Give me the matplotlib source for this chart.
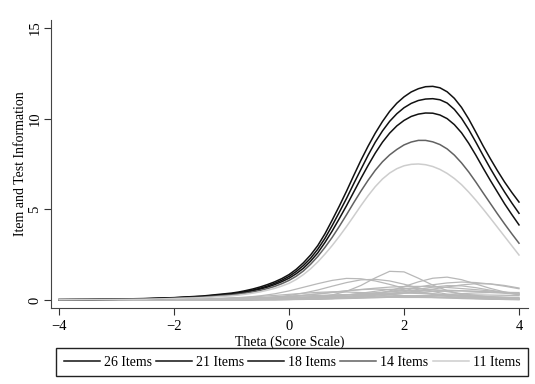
import matplotlib
matplotlib.use("Agg")
import matplotlib.pyplot as plt
import numpy as np

# theta grid for the test curves: coarse on the flat left tail, fine elsewhere
theta_test = np.concatenate([np.arange(-4, -1, 0.5), np.arange(-1, 4.001, 0.125)])
# theta grid for the item curves
theta_item = np.arange(-4, 4.001, 0.25)

test_labels = ["26 Items", "21 Items", "18 Items", "14 Items", "11 Items"]
test_colors = ["#111111", "#111111", "#111111", "#626262", "#cdcdcd"]

info_26 = [.02, .03, .05, .08, .13, .22,
           .38, .44, .52, .61, .72, .85, 1.00, 1.18, 1.40, 1.69, 2.05, 2.48, 3.00, 3.65, 4.40, 5.18,
           6.00, 6.86, 7.70, 8.48, 9.20, 9.84, 10.40, 10.85, 11.20, 11.47, 11.65, 11.76, 11.78, 11.70,
           11.48, 11.12, 10.62, 9.98, 9.25, 8.50, 7.80, 7.13, 6.50, 5.93, 5.40]
info_21 = [.02, .03, .04, .07, .12, .20,
           .34, .40, .47, .55, .65, .77, .92, 1.09, 1.30, 1.57, 1.90, 2.30, 2.80, 3.40, 4.10, 4.84,
           5.60, 6.41, 7.20, 7.98, 8.70, 9.32, 9.85, 10.27, 10.60, 10.84, 11.00, 11.08, 11.10, 11.04,
           10.86, 10.51, 10.02, 9.40, 8.70, 7.97, 7.26, 6.59, 5.95, 5.35, 4.78]
info_18 = [.02, .02, .04, .06, .11, .18,
           .31, .36, .43, .51, .60, .71, .85, 1.01, 1.20, 1.45, 1.75, 2.14, 2.60, 3.17, 3.80, 4.49,
           5.20, 5.95, 6.70, 7.42, 8.10, 8.70, 9.20, 9.60, 9.90, 10.12, 10.25, 10.31, 10.30, 10.20,
           10.00, 9.67, 9.22, 8.64, 7.98, 7.28, 6.60, 5.95, 5.30, 4.71, 4.14]
info_14 = [.01, .02, .03, .05, .09, .16,
           .28, .33, .38, .45, .53, .63, .75, .90, 1.08, 1.31, 1.60, 1.97, 2.40, 2.90, 3.45, 4.06,
           4.70, 5.36, 6.00, 6.60, 7.15, 7.62, 8.00, 8.30, 8.55, 8.71, 8.80, 8.80, 8.72, 8.57,
           8.33, 7.99, 7.56, 7.06, 6.50, 5.91, 5.33, 4.75, 4.19, 3.65, 3.13]
info_11 = [.01, .02, .03, .04, .08, .13,
           .23, .27, .32, .38, .45, .54, .64, .77, .92, 1.13, 1.40, 1.72, 2.10, 2.53, 3.00, 3.51,
           4.05, 4.62, 5.20, 5.75, 6.25, 6.67, 7.00, 7.24, 7.40, 7.48, 7.50, 7.46, 7.36, 7.20,
           6.98, 6.70, 6.36, 5.95, 5.50, 5.02, 4.52, 4.01, 3.50, 2.99, 2.48]
test_info = [info_26, info_21, info_18, info_14, info_11]

# item information curves (on theta_item)
item_info = [
    [0, 0, 0, 0, 0, 0, 0, 0, 0, 0, 0, 0, .01, .01, .02, .03, .05, .09, .16, .28, .48, .80, 1.22, 1.58, 1.55, 1.20, .82, .52, .30, .17, .10, .05, .03],
    [0, 0, 0, 0, 0, .01, .01, .01, .02, .03, .04, .06, .10, .15, .23, .34, .50, .70, .90, 1.08, 1.19, 1.17, 1.05, .86, .65, .46, .31, .20, .13, .08, .05, .03, .02],
    [0, 0, 0, 0, 0, 0, .01, .01, .01, .02, .02, .03, .04, .06, .10, .16, .25, .38, .55, .76, .96, 1.11, 1.14, 1.05, .87, .66, .47, .32, .21, .14, .09, .06, .04],
    [0, 0, 0, 0, 0, 0, 0, 0, 0, 0, 0, 0, 0, 0, .01, .01, .02, .03, .05, .08, .13, .21, .33, .50, .74, 1.00, 1.20, 1.26, 1.12, .88, .64, .44, .29],
    [0, 0, 0, 0, 0, 0, 0, 0, .01, .01, .01, .02, .02, .03, .04, .05, .06, .08, .11, .15, .20, .27, .36, .47, .59, .72, .84, .94, .99, .96, .88, .76, .62],
    [0, 0, 0, 0, 0, 0, 0, 0, 0, 0, 0, 0, .01, .01, .02, .02, .03, .04, .06, .08, .11, .15, .21, .28, .37, .48, .60, .72, .83, .90, .89, .80, .66],
    [0, 0, 0, .01, .01, .01, .02, .02, .03, .04, .05, .06, .08, .10, .13, .16, .20, .26, .33, .41, .50, .58, .65, .71, .74, .75, .73, .69, .63, .57, .50, .43, .37],
    [0, 0, 0, 0, 0, 0, .01, .01, .01, .02, .02, .03, .05, .07, .10, .14, .19, .26, .34, .43, .51, .57, .60, .58, .52, .44, .35, .27, .20, .14, .10, .07, .05],
    [0, 0, 0, 0, 0, 0, .01, .01, .01, .01, .02, .02, .03, .04, .05, .06, .08, .10, .13, .16, .20, .24, .29, .34, .39, .43, .47, .49, .50, .48, .45, .41, .36],
    [0, 0, .01, .01, .01, .02, .02, .03, .04, .05, .07, .09, .12, .15, .20, .25, .31, .37, .42, .45, .44, .41, .36, .30, .24, .19, .14, .11, .08, .06, .04, .03, .02],
    [0, 0, 0, 0, 0, 0, 0, 0, 0, 0, .01, .01, .01, .01, .02, .02, .03, .04, .05, .06, .08, .10, .12, .15, .19, .23, .27, .31, .35, .39, .41, .42, .41],
    [0, 0, 0, 0, 0, .01, .01, .01, .02, .02, .03, .04, .05, .06, .08, .10, .13, .16, .20, .24, .29, .33, .36, .38, .38, .36, .33, .29, .25, .21, .17, .14, .11],
    [0, 0, .01, .01, .01, .01, .02, .02, .03, .04, .05, .06, .08, .10, .13, .16, .19, .22, .25, .28, .30, .30, .29, .27, .24, .21, .18, .15, .12, .10, .08, .06, .05],
    [0, 0, 0, 0, 0, 0, 0, 0, .01, .01, .01, .01, .02, .02, .03, .04, .05, .06, .07, .09, .11, .13, .15, .18, .20, .23, .25, .27, .28, .28, .27, .26, .24],
    [0, 0, 0, 0, 0, 0, .01, .01, .01, .01, .02, .02, .03, .03, .04, .05, .06, .07, .09, .10, .12, .14, .16, .18, .20, .21, .22, .22, .21, .20, .18, .16, .14],
    [0, 0, 0, 0, 0, 0, 0, 0, 0, 0, .01, .01, .01, .02, .03, .04, .06, .09, .13, .19, .27, .37, .48, .58, .64, .64, .57, .46, .35, .25, .17, .12, .08],
    [0, 0, 0, 0, .01, .01, .01, .01, .02, .02, .03, .04, .05, .06, .08, .10, .12, .15, .19, .23, .28, .34, .40, .45, .50, .53, .55, .54, .51, .47, .42, .37, .32],
    [0, 0, 0, .01, .01, .01, .01, .02, .02, .03, .03, .04, .05, .06, .07, .08, .09, .10, .11, .12, .13, .14, .15, .15, .14, .14, .13, .12, .11, .10, .09, .08, .07],
    [0, 0, 0, 0, 0, 0, 0, 0, 0, 0, 0, 0, .01, .01, .02, .02, .03, .05, .07, .10, .14, .19, .26, .35, .46, .59, .71, .79, .78, .68, .54, .41, .30],
]

plt.rcParams["font.family"] = ["Liberation Serif", "DejaVu Serif"]

fig = plt.figure(figsize=(5.35, 3.84), dpi=100)
ax = fig.add_axes([0.0953, 0.198, 0.892, 0.750])

for vals in item_info:
    ax.plot(theta_item, vals, color="#b8b8b8", lw=0.9, zorder=1)

handles = []
for vals, lab, col in zip(test_info, test_labels, test_colors):
    h, = ax.plot(theta_test, vals, color=col, lw=1.1, label=lab, zorder=2)
    handles.append(h)

ax.set_xlim(-4.14, 4.16)
ax.set_ylim(-0.44, 15.44)
ax.set_xticks([-4, -2, 0, 2, 4])
ax.set_yticks([0, 5, 10, 15])
ax.set_yticklabels(["0", "5", "10", "15"], rotation=90, va="center")
ax.tick_params(direction="out", length=5, width=0.8, colors="#333333", labelsize=10.5,
               labelcolor="black")
ax.tick_params(axis="y", pad=2)
ax.spines["top"].set_visible(False)
ax.spines["right"].set_visible(False)
ax.spines["left"].set_color("#444444")
ax.spines["bottom"].set_color("#444444")

ax.set_xlabel("Theta (Score Scale)", fontsize=10, labelpad=2)
ax.set_ylabel("Item and Test Information", fontsize=10)
ax.yaxis.set_label_coords(-0.05, 0.5)

fig.legend(handles=handles, labels=test_labels, loc="center",
           bbox_to_anchor=(292 / 535, 1 - 362 / 384),
           ncol=5, frameon=True, fancybox=False, edgecolor="#222222",
           framealpha=1, fontsize=10, handlelength=2.6, handletextpad=0.3,
           columnspacing=0.28, borderaxespad=0, borderpad=0.55)

fig.savefig("out.png", dpi=100)
plt.close(fig)
